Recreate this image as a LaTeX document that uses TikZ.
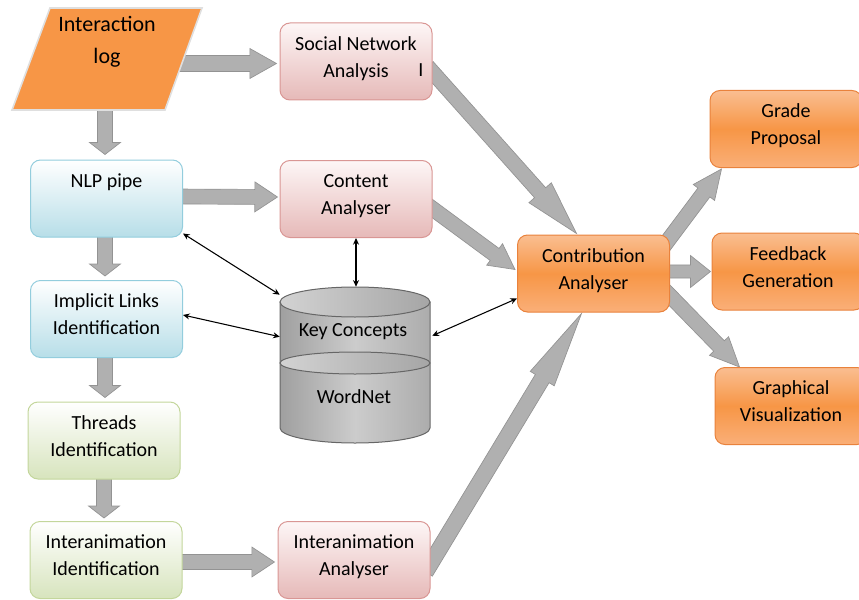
\documentclass[tikz,border=0pt]{standalone}
\usepackage{fontspec}
\setmainfont{Carlito}
\usetikzlibrary{calc,arrows.meta,backgrounds}

\definecolor{pinkline}{RGB}{217,150,148}
\definecolor{pinktop}{RGB}{253,246,246}
\definecolor{pinkbot}{RGB}{230,185,184}
\definecolor{blueline}{RGB}{147,205,221}
\definecolor{bluebot}{RGB}{183,222,232}
\definecolor{greenline}{RGB}{195,214,155}
\definecolor{greenbot}{RGB}{215,228,189}
\definecolor{orangefill}{RGB}{247,150,70}
\definecolor{orangetop}{RGB}{250,190,145}
\definecolor{orangebot}{RGB}{250,175,120}
\definecolor{orangeline}{RGB}{233,130,60}

\tikzset{
  box/.style={rectangle, rounded corners=7.5pt, minimum width=114pt, minimum height=57.75pt,
    align=center, line width=0.75pt, inner sep=2pt, text depth=7pt, font=\fontsize{15}{20}\selectfont},
  pinkbox/.style={box, draw=pinkline, top color=pinktop, bottom color=pinkbot},
  bluebox/.style={box, draw=blueline, top color=white, bottom color=bluebot},
  greenbox/.style={box, draw=greenline, top color=white, bottom color=greenbot},
  orangebox/.style={box, draw=orangeline, top color=orangetop, bottom color=orangebot, middle color=orangefill},
  toptext/.style={text height=11pt, text depth=27pt},
  logshape/.style={fill=orangefill, draw=gray!25, line width=1.2pt},
  logtext/.style={align=center, minimum width=112.5pt, font=\fontsize{16.5}{24}\selectfont},
  dbtext/.style={font=\fontsize{15}{20}\selectfont},
  fatarrow/.style={fill=gray!62, draw=gray!85, line width=0.5pt},
  link/.style={<->, >={Stealth[length=5pt,width=4.5pt]}, line width=0.8pt}
}

% block arrow: start, tip, shaft half width, head half width, head length
\newcommand{\fatarrow}[5]{%
  \coordinate (fa-s) at (#1);
  \coordinate (fa-e) at (#2);
  \coordinate (fa-b) at ($(fa-e)!#5!(fa-s)$);
  \filldraw[fatarrow] ($(fa-s)!#3!90:(fa-e)$) -- ($(fa-b)!#3!90:(fa-e)$) -- ($(fa-b)!#4!90:(fa-e)$)
    -- (fa-e) -- ($(fa-b)!#4!-90:(fa-e)$) -- ($(fa-b)!#3!-90:(fa-e)$) -- ($(fa-s)!#3!-90:(fa-e)$) -- cycle;
}

\begin{document}
\begin{tikzpicture}[x=0.75pt,y=0.75pt,yscale=-1,xscale=1]
\useasboundingbox (0,0) rectangle (859,599);

%Shape: Parallelogram
\draw [logshape] (12,110) -- (50,8) -- (202,8) -- (165,110) -- cycle ;
% Text Node
\node [logtext] (log) at (107,42) {Interaction\\log};

%Shape: Rounded Rect
\node [pinkbox] (social) at (356,61.5) {Social Network\\Analysis};
% Text Node
\node [dbtext] (cursor) at (421,70) {I};
%Shape: Rounded Rect
\node [pinkbox] (content) at (356,199) {Content\\Analyser};
\node [bluebox, toptext] (nlp) at (106.5,198.5) {NLP pipe};
\node [bluebox] (implicit) at (106.5,319) {Implicit Links\\Identification};
\node [greenbox] (threads) at (104,440.5) {Threads\\Identification};
\node [greenbox] (interid) at (106,560) {Interanimation\\Identification};
\node [pinkbox] (interan) at (354,560) {Interanimation\\Analyser};
\node [orangebox] (contrib) at (593.5,273.5) {Contribution\\Analyser};
\node [orangebox] (grade) at (786,129) {Grade\\Proposal};
\node [orangebox] (feedback) at (788,271.5) {Feedback\\Generation};
\node [orangebox] (graphic) at (791,406) {Graphical\\Visualization};

%Shape: Can
\shade [draw=gray!80!black, line width=0.75pt, left color=gray!75, right color=gray!65, middle color=gray!40]
  (280,302) -- (280,428) arc [start angle=180, end angle=0, x radius=75, y radius=15] -- (430,302) -- cycle ;
\shade [draw=gray!80!black, line width=0.75pt, left color=gray!35, right color=gray!70]
  (355,363) ellipse [x radius=75, y radius=11] ;
\shade [draw=gray!80!black, line width=0.75pt, left color=gray!35, right color=gray!70]
  (355,302) ellipse [x radius=75, y radius=15] ;
\node [minimum width=112.5pt, minimum height=117pt] (db) at (355,365) {};
% Text Node
\node [dbtext] (kc) at (353,332) {Key Concepts};
\node [dbtext] (wn) at (354,397) {WordNet};

%Straight Lines
\draw [link] ($(nlp.south east)+(0,-4)$) -- ($(db.north west)+(0,8)$) ;
\draw [link] ($(implicit.east)+(0,-4)$) -- ($(db.north west)+(0,50)$) ;
\draw [link] (content.south) -- (content.south |- db.north) ;
\draw [link] ($(db.north east)+(2,49)$) -- ($(contrib.south west)+(0,-14)$) ;

%Block Arrows
\begin{pgfonlayer}{background}
\fatarrow{$(log.east |- social.west)+(-10,2)$}{$(social.west)+(-3,2)$}{6pt}{11.25pt}{20pt}
\fatarrow{$(log.south)+(-2,0)$}{$(nlp.north)+(-1.5,-5)$}{5.6pt}{11.6pt}{9pt}
\fatarrow{$(nlp.east)+(-5,-2)$}{$(content.west)+(-2,-2)$}{5.6pt}{11.25pt}{17pt}
\fatarrow{$(nlp.south)+(-1.5,-5)$}{$(implicit.north)+(-1.5,-4)$}{5.6pt}{11.6pt}{9pt}
\fatarrow{$(implicit.south)+(-1.5,-5)$}{$(implicit.south |- threads.north)+(-1.5,-4)$}{5.6pt}{11.6pt}{9pt}
\fatarrow{$(threads.south)+(0,-5)$}{$(threads.south |- interid.north)+(0,-3)$}{5.6pt}{11.6pt}{9pt}
\fatarrow{$(interid.east)+(-5,2)$}{$(interan.west)+(-3,2)$}{5.6pt}{11.25pt}{17pt}
\fatarrow{$(social.east)+(-5,5)$}{$(contrib.north)+(-17,-1)$}{5.6pt}{11.25pt}{41pt}
\fatarrow{$(content.east)+(-5,6)$}{$(contrib.west)+(-2,-4)$}{5.6pt}{10pt}{19pt}
\fatarrow{$(interan.east)+(-5,12)$}{$(contrib.south)+(-12,1)$}{6pt}{10.5pt}{57pt}
\fatarrow{$(contrib.east)+(-8,-25)$}{$(grade.south west)+(12,1)$}{5.6pt}{10pt}{22pt}
\fatarrow{$(contrib.east)+(-5,-2)$}{$(feedback.west)+(-1,0)$}{4.9pt}{12pt}{15pt}
\fatarrow{$(contrib.east)+(-8,14)$}{$(graphic.north west)+(25,0)$}{5.6pt}{10pt}{22pt}
\end{pgfonlayer}

\end{tikzpicture}
\end{document}
